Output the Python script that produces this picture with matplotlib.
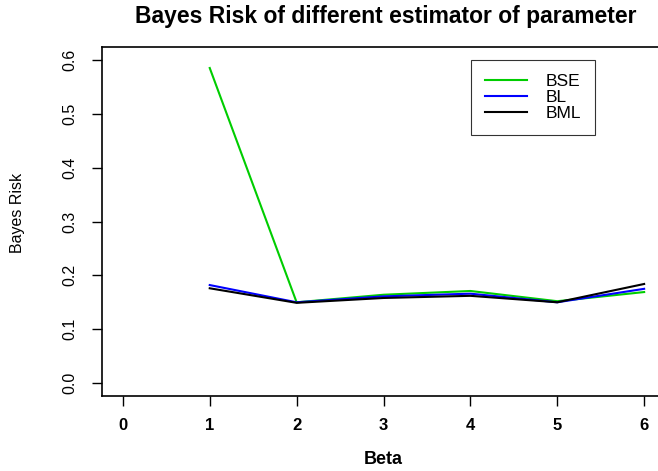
import numpy as np
import matplotlib
matplotlib.use('Agg')
import matplotlib.pyplot as plt

plt.rcParams['font.family'] = ['Liberation Sans', 'DejaVu Sans']

# Bayes risk per estimator
beta = [1, 2, 3, 4, 5, 6]
bse = [0.585, 0.150, 0.164, 0.171, 0.152, 0.169]
bl = [0.182, 0.150, 0.161, 0.166, 0.150, 0.175]
bml = [0.176, 0.149, 0.158, 0.162, 0.150, 0.184]

xticks = [0, 1, 2, 3, 4, 5, 6]
yticks = [0.0, 0.1, 0.2, 0.3, 0.4, 0.5, 0.6]

fig = plt.figure(figsize=(6.58, 4.71), dpi=100)
W, H = 658, 471
ax = fig.add_axes([102 / W, (H - 396) / H, (665 - 102) / W, (396 - 47) / H])

ax.plot(beta, bse, color='#00CD00', lw=1.5, label='BSE')
ax.plot(beta, bl, color='#0000FF', lw=1.5, label='BL')
ax.plot(beta, bml, color='black', lw=1.5, label='BML')

ax.set_xlim(-0.24, 6.24)
ax.set_ylim(-0.024, 0.624)
ax.set_xticks(xticks)
ax.set_xticklabels([str(t) for t in xticks], fontweight='bold', fontsize=12)
ax.set_yticks(yticks)
ax.set_yticklabels(['%.1f' % t for t in yticks], rotation=90, va='center', fontsize=11.5)
ax.tick_params(direction='out', length=7, width=1)
ax.tick_params(axis='x', pad=9)
ax.tick_params(axis='y', pad=11)
for s in ax.spines.values():
    s.set_linewidth(1.2)

leg = ax.legend(loc='upper left', bbox_to_anchor=((471 - 102) / (665 - 102), 1 - (60 - 47) / (396 - 47)),
                frameon=True, fancybox=False, fontsize=12.5, handlelength=2.4,
                handletextpad=1.1, borderpad=0.8, labelspacing=0.05, borderaxespad=0)
leg.get_frame().set_edgecolor('black')
leg.get_frame().set_linewidth(0.8)

fig.text(386 / W, 1 - 16 / H, 'Bayes Risk of different estimator of parameter',
         ha='center', va='center', fontsize=16.5, fontweight='bold')
fig.text(383 / W, 1 - 460 / H, 'Beta', ha='center', va='center', fontsize=13, fontweight='bold')
fig.text(18 / W, 1 - 213 / H, 'Bayes Risk', ha='center', va='center', fontsize=11.5, rotation=90)

fig.savefig('out.png', dpi=100)
